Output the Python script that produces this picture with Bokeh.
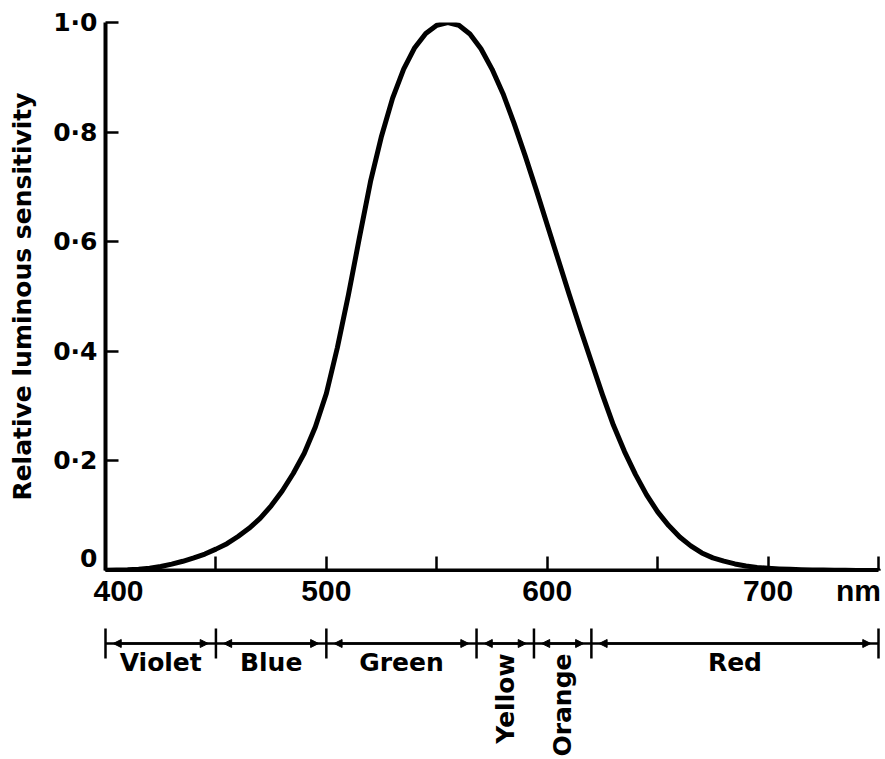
from math import pi
from bokeh.plotting import figure
from bokeh.layouts import column
from bokeh.models import Range1d, FixedTicker, Arrow, NormalHead, ColumnDataSource
from bokeh.core.properties import value
from bokeh.embed import file_html
from bokeh.resources import INLINE

# ---- data ----
wavelength_nm = [400, 405, 410, 415, 420, 425, 430, 435, 440, 445, 450, 455, 460, 465,
                 470, 475, 480, 485, 490, 495, 500, 505, 510, 515, 520, 525, 530, 535,
                 540, 545, 550, 555, 560, 565, 570, 575, 580, 585, 590, 595, 600, 605,
                 610, 615, 620, 625, 630, 635, 640, 645, 650, 655, 660, 665, 670, 675,
                 680, 685, 690, 695, 700, 705, 710, 715, 720, 725, 730, 735, 740, 745, 750]
sensitivity = [0.0004, 0.0007, 0.0012, 0.0022, 0.004, 0.0073, 0.0116, 0.0168, 0.023,
               0.030, 0.039, 0.049, 0.062, 0.077, 0.095, 0.118, 0.145, 0.177, 0.214,
               0.262, 0.323, 0.407, 0.503, 0.608, 0.710, 0.793, 0.862, 0.915, 0.954,
               0.980, 0.995, 1.000, 0.995, 0.979, 0.952, 0.915, 0.870, 0.816, 0.757,
               0.695, 0.631, 0.567, 0.503, 0.441, 0.381, 0.321, 0.265, 0.217, 0.175,
               0.138, 0.107, 0.082, 0.061, 0.045, 0.032, 0.023, 0.017, 0.012, 0.0082,
               0.0057, 0.0041, 0.0029, 0.0021, 0.0015, 0.0010, 0.0007, 0.0005, 0.0004,
               0.0002, 0.0002, 0.0001]

x_ticks = [400, 450, 500, 550, 600, 650, 700, 750]
x_label_pos = [400, 500, 600, 700, 750]
x_label_txt = ["400", "500", "600", "700", "nm"]
y_ticks = [0, 0.2, 0.4, 0.6, 0.8, 1.0]
y_tick_labels = ["0", "0·2", "0·4", "0·6", "0·8", "1·0"]

band_names = ["Violet", "Blue", "Green", "Yellow", "Orange", "Red"]
band_edges = [400, 450, 500, 568, 594, 620, 750]

y_title = "Relative luminous sensitivity"

BOLD = "bold"
F_LAB = "DejaVu Sans"
F_NUM = "Liberation Sans"

# ---- layout geometry (pixels) ----
W = 884
LEFT = 105          # frame left edge
AX_END = 878        # pixel where 750 nm sits
X0 = 400
px_per_nm = (AX_END - LEFT) / (750 - X0)
X1 = X0 + (W - LEFT) / px_per_nm
H1 = 572
H2 = 186

# ---- main chart ----
p = figure(width=W, height=H1, x_range=Range1d(X0, X1), y_range=Range1d(0, 1),
           output_backend="svg", toolbar_location=None,
           min_border_left=LEFT, min_border_right=0, min_border_top=22, min_border_bottom=2)
p.frame_align = False
p.outline_line_color = None
p.grid.visible = False
p.background_fill_color = "white"

p.line(wavelength_nm, sensitivity, line_width=5, line_color="black",
       line_join="round", line_cap="round")

xa = p.xaxis[0]
xa.ticker = FixedTicker(ticks=x_ticks)
xa.major_label_overrides = {t: "" for t in x_ticks}
xa.major_label_text_font_size = "1px"
xa.major_label_standoff = 0
xa.bounds = (400, 750)
xa.axis_line_width = 4
xa.axis_line_color = "black"
xa.major_tick_in = 14
xa.major_tick_out = 0
xa.major_tick_line_width = 2.5
xa.minor_tick_line_color = None

ya = p.yaxis[0]
ya.ticker = FixedTicker(ticks=y_ticks)
ya.major_label_overrides = {t: s for t, s in zip(y_ticks, y_tick_labels)}
ya.axis_line_width = 4
ya.axis_line_color = "black"
ya.major_tick_in = 13
ya.major_tick_out = 0
ya.major_tick_line_width = 2.5
ya.minor_tick_line_color = None
ya.major_label_text_font = F_LAB
ya.major_label_text_font_size = "25px"
ya.major_label_text_font_style = BOLD
ya.major_label_text_color = "black"
ya.major_label_standoff = 8
ya.axis_label = y_title
ya.axis_label_text_font = F_LAB
ya.axis_label_text_font_size = "25px"
ya.axis_label_text_font_style = BOLD
ya.axis_label_text_color = "black"
ya.axis_label_standoff = 13

# ---- wavelength labels and colour band scale ----
q = figure(width=W, height=H2, x_range=Range1d(X0 - LEFT / px_per_nm, X1),
           y_range=Range1d(-H2, 0),
           output_backend="svg", toolbar_location=None,
           min_border_left=0, min_border_right=0, min_border_top=0, min_border_bottom=0,
           x_axis_location=None, y_axis_location=None)
q.frame_align = False
q.outline_line_color = None
q.grid.visible = False

# tick labels of the wavelength axis
LBL_Y = -18
lbl_off = [13 if t == "400" else (-20 if t == "nm" else 0) for t in x_label_txt]
q.text(x=x_label_pos, y=[LBL_Y] * len(x_label_pos), text=x_label_txt, x_offset=lbl_off,
       text_font=value(F_NUM), text_font_size="30px", text_font_style=BOLD,
       text_align="center", text_baseline="alphabetic", text_color="black")

BAR = -71
q.segment(x0=[band_edges[0]], y0=[BAR], x1=[band_edges[-1]], y1=[BAR],
          line_width=2.5, line_color="black")
q.segment(x0=band_edges, y0=[BAR - 15] * len(band_edges), x1=band_edges,
          y1=[BAR + 15] * len(band_edges), line_width=2.5, line_color="black")

gap = 3.5
arr_src = ColumnDataSource(dict(
    x0=[a + gap for a in band_edges[:-1]], x1=[b - gap for b in band_edges[1:]],
    y0=[BAR] * len(band_names), y1=[BAR] * len(band_names)))
q.add_layout(Arrow(start=NormalHead(size=8, fill_color="black", line_color="black"),
                   end=NormalHead(size=8, fill_color="black", line_color="black"),
                   x_start="x0", y_start="y0", x_end="x1", y_end="y1",
                   line_width=2.5, line_color="black", source=arr_src))

mids = [(a + b) / 2 for a, b in zip(band_edges[:-1], band_edges[1:])]
widths = [b - a for a, b in zip(band_edges[:-1], band_edges[1:])]
h_idx = [i for i, w in enumerate(widths) if w >= 40]
v_idx = [i for i, w in enumerate(widths) if w < 40]

q.text(x=[mids[i] for i in h_idx], y=[BAR - 19] * len(h_idx),
       text=[band_names[i] for i in h_idx], text_font=value(F_LAB),
       text_font_size="25px", text_font_style=BOLD, text_align="center",
       text_baseline="alphabetic", text_color="black")
q.text(x=[mids[i] for i in v_idx], y=[BAR - 10] * len(v_idx),
       text=[band_names[i] for i in v_idx], angle=pi / 2, text_font=value(F_LAB),
       text_font_size="25px", text_font_style=BOLD, text_align="right",
       text_baseline="middle", text_color="black")

layout = column(p, q)
with open("out.html", "w") as f:
    f.write(file_html(layout, INLINE))
